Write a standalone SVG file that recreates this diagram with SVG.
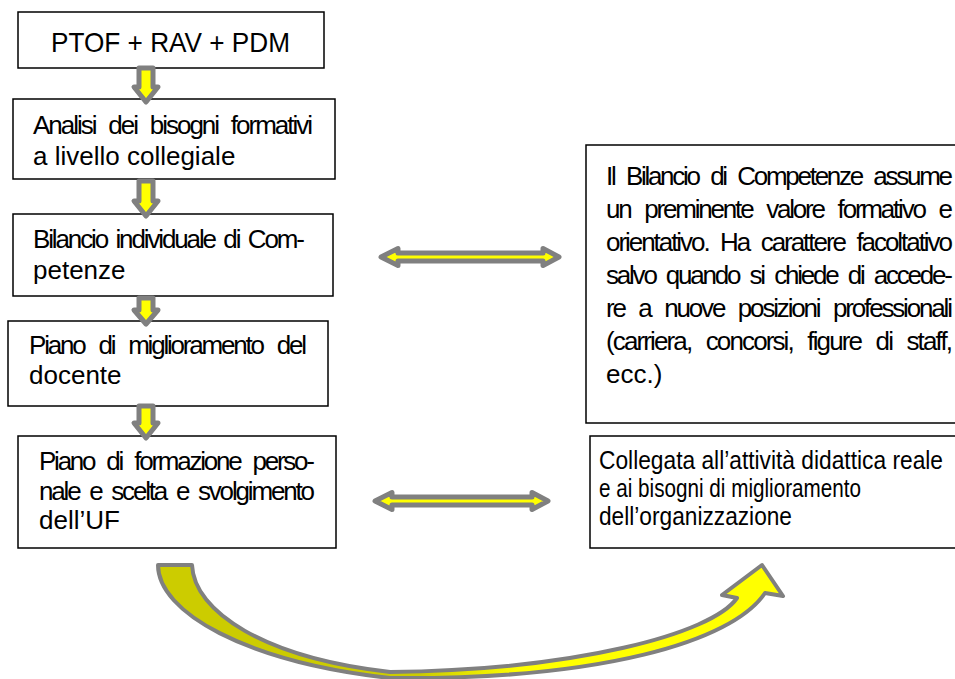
<svg xmlns="http://www.w3.org/2000/svg" width="955" height="679" viewBox="0 0 955 679">
<defs>
<style>
.box{fill:#fff;stroke:#000;stroke-width:1.5}
.t{font-family:"Liberation Sans Narrow","Arial Narrow","Liberation Sans",sans-serif;font-size:26px;fill:#000}
.s{font-size:25px}
.h{font-family:"Liberation Sans",Arial,sans-serif;font-size:28px;fill:#000}
.arr{fill:#ffff00;stroke:#808080;stroke-width:5;stroke-linejoin:round}
.curve{stroke:#808080;stroke-width:4;stroke-linejoin:round}
</style>
<linearGradient id="cg" gradientUnits="userSpaceOnUse" x1="158" y1="0" x2="783" y2="0">
<stop offset="0" stop-color="#cccc00"/>
<stop offset="0.42" stop-color="#cccc00"/>
<stop offset="0.58" stop-color="#ffff00"/>
<stop offset="1" stop-color="#ffff00"/>
</linearGradient>
</defs>
<rect width="955" height="679" fill="#fff"/>

<g id="n1">
<rect class="box" x="18" y="12" width="306" height="56"/>
<text class="h" x="51" y="52" textLength="239" lengthAdjust="spacingAndGlyphs">PTOF + RAV + PDM</text>
</g>
<g id="n2">
<rect class="box" x="13" y="99" width="322" height="80"/>
<text class="t" x="33" y="134" word-spacing="7.6" textLength="280" lengthAdjust="spacing">Analisi dei bisogni formativi</text>
<text class="t" x="33" y="165">a livello collegiale</text>
</g>
<g id="n3">
<rect class="box" x="13" y="214" width="320" height="82"/>
<text class="t" x="33" y="248" word-spacing="3.4" textLength="272" lengthAdjust="spacing">Bilancio individuale di Com-</text>
<text class="t" x="33" y="279">petenze</text>
</g>
<g id="n4">
<rect class="box" x="8" y="321" width="320" height="85"/>
<text class="t" x="29" y="354" word-spacing="8.9" textLength="278" lengthAdjust="spacing">Piano di miglioramento del</text>
<text class="t" x="29" y="384">docente</text>
</g>
<g id="n5">
<rect class="box" x="18" y="436" width="318" height="112"/>
<text class="t" x="39" y="470" word-spacing="7.1" textLength="276" lengthAdjust="spacing">Piano di formazione perso-</text>
<text class="t" x="39" y="500" word-spacing="4.7" textLength="276" lengthAdjust="spacing">nale e scelta e svolgimento</text>
<text class="t" x="39" y="529">dell’UF</text>
</g>
<g id="n6">
<rect class="box" x="586" y="145" width="380" height="278"/>
<text class="t" x="606" y="185" word-spacing="6.5" textLength="347" lengthAdjust="spacing">Il Bilancio di Competenze assume</text>
<text class="t" x="606" y="218" word-spacing="8.8" textLength="347" lengthAdjust="spacing">un preminente valore formativo e</text>
<text class="t" x="606" y="251" word-spacing="6.3" textLength="347" lengthAdjust="spacing">orientativo. Ha carattere facoltativo</text>
<text class="t" x="606" y="284" word-spacing="5.2" textLength="347" lengthAdjust="spacing">salvo quando si chiede di accede-</text>
<text class="t" x="606" y="317" word-spacing="8.5" textLength="347" lengthAdjust="spacing">re a nuove posizioni professionali</text>
<text class="t" x="606" y="350" word-spacing="9.1" textLength="347" lengthAdjust="spacing">(carriera, concorsi, figure di staff,</text>
<text class="t" x="606" y="383">ecc.)</text>
</g>
<g id="n7">
<rect class="box" x="590" y="436" width="380" height="112"/>
<text class="t s" x="599" y="469" textLength="344" lengthAdjust="spacingAndGlyphs">Collegata all’attività didattica reale</text>
<text class="t s" x="599" y="497" textLength="262" lengthAdjust="spacingAndGlyphs">e ai bisogni di miglioramento</text>
<text class="t s" x="599" y="525" textLength="193" lengthAdjust="spacingAndGlyphs">dell’organizzazione</text>
</g>

<g id="connectors">
<polygon class="arr" points="139,68 153,68 153,87 158,87 146,102 134,87 139,87"/>
<polygon class="arr" points="139,181 153,181 153,201 158,201 146,216 134,201 139,201"/>
<polygon class="arr" points="139,298 153,298 153,310 158,310 146,324 134,310 139,310"/>
<polygon class="arr" points="139,406 153,406 153,423 158,423 146,438 134,423 139,423"/>
<polygon class="arr" points="381,257 398,248.5 398,253 543,253 543,248.5 559,257 543,265.5 543,261 398,261 398,265.5"/>
<polygon class="arr" points="375,501 392,492.5 392,497 532,497 532,492.5 548,501 532,509.5 532,505 392,505 392,509.5"/>
<path class="curve" fill="url(#cg)" d="M158,565 L192,565 C194,612 265,658 390,672 C575,670 712,634 737,598 L722,595 L762,565 L783,596 L765,593 C732,642 600,680 390,678 C245,662 158,612 158,565 Z"/>
</g>
</svg>
